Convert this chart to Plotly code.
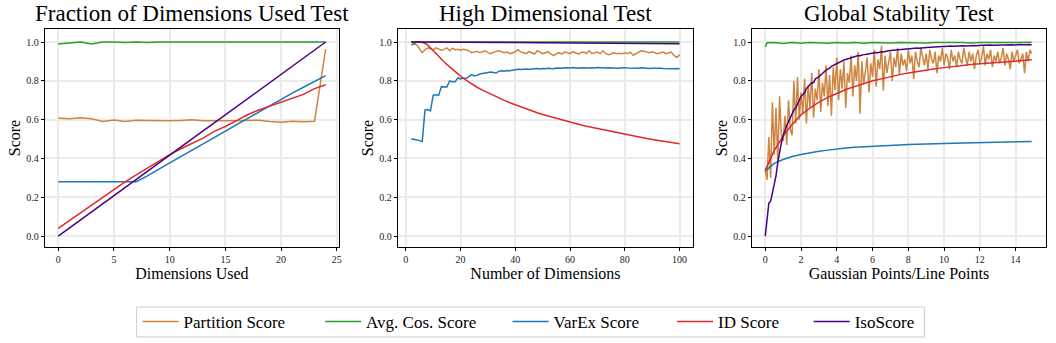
import plotly.graph_objects as go

# ---------------- Data ----------------
series_names = ["Partition Score", "Avg. Cos. Score", "VarEx Score", "ID Score", "IsoScore"]
colors = ["#cd853f", "#2ca02c", "#1f77b4", "#e0292a", "#4b0082"]

titles = ["Fraction of Dimensions Used Test", "High Dimensional Test", "Global Stability Test"]
x_labels = ["Dimensions Used", "Number of Dimensions", "Gaussian Points/Line Points"]
x_ticks = [[0, 5, 10, 15, 20, 25], [0, 20, 40, 60, 80, 100], [0, 2, 4, 6, 8, 10, 12, 14]]
y_ticks = [0.0, 0.2, 0.4, 0.6, 0.8, 1.0]

# Panel 1: Fraction of Dimensions Used
x1 = list(range(0, 25))
p1_partition = [0.608, 0.605, 0.61, 0.605, 0.59, 0.598, 0.59, 0.597, 0.596, 0.594, 0.594, 0.596, 0.599,
                0.594, 0.593, 0.594, 0.595, 0.596, 0.597, 0.59, 0.587, 0.592, 0.589, 0.592, 0.964]
p1_avgcos = [0.99, 0.995, 1.0, 0.99, 1.0, 1.0, 0.997, 1.0, 0.998, 1.0, 1.0, 0.997, 1.0, 0.999, 0.998,
             1.0, 1.0, 1.0, 1.0, 0.999, 0.998, 1.0, 1.0, 1.0, 1.0]
p1_varex = [0.28, 0.28, 0.28, 0.28, 0.28, 0.28, 0.28, 0.28, 0.31, 0.345, 0.377, 0.41, 0.443, 0.476,
            0.509, 0.542, 0.575, 0.608, 0.641, 0.674, 0.705, 0.737, 0.767, 0.797, 0.827]
p1_id = [0.04, 0.08, 0.12, 0.16, 0.2, 0.24, 0.28, 0.315, 0.35, 0.385, 0.42, 0.45, 0.478, 0.505, 0.54,
         0.565, 0.595, 0.625, 0.65, 0.67, 0.69, 0.71, 0.73, 0.76, 0.78]
p1_iso = [0.0, 0.042, 0.083, 0.125, 0.167, 0.208, 0.25, 0.292, 0.333, 0.375, 0.417, 0.458, 0.5, 0.542,
          0.583, 0.625, 0.667, 0.708, 0.75, 0.792, 0.833, 0.875, 0.917, 0.958, 1.0]

# Panel 2: High Dimensional
x2 = list(range(2, 101))
p2_partition = [1.0, 0.99, 0.985, 0.965, 0.945, 0.96, 0.97, 0.965, 0.96, 0.97, 0.965, 0.958, 0.962, 0.97,
                0.955, 0.968, 0.96, 0.962, 0.958, 0.963, 0.96, 0.955, 0.945, 0.948, 0.952, 0.945, 0.95,
                0.955, 0.945, 0.94, 0.948, 0.952, 0.955, 0.95, 0.945, 0.948, 0.94, 0.945, 0.95, 0.96,
                0.948, 0.945, 0.94, 0.95, 0.943, 0.938, 0.955, 0.948, 0.94, 0.945, 0.95, 0.938, 0.93,
                0.94, 0.945, 0.938, 0.948, 0.945, 0.94, 0.95, 0.942, 0.938, 0.945, 0.948, 0.94, 0.955,
                0.94, 0.945, 0.948, 0.94, 0.955, 0.94, 0.935, 0.938, 0.945, 0.94, 0.942, 0.94, 0.945,
                0.94, 0.948, 0.932, 0.94, 0.95, 0.955, 0.952, 0.948, 0.945, 0.95, 0.943, 0.94, 0.945,
                0.948, 0.94, 0.945, 0.948, 0.93, 0.92, 0.935]
x2_avgcos = [2, 3, 4, 6, 10, 20, 30, 40, 50, 60, 70, 80, 90, 100]
p2_avgcos = [0.985, 0.99, 1.0, 0.998, 1.0, 1.0, 0.999, 1.0, 1.0, 1.0, 1.0, 1.0, 1.0, 1.0]
p2_varex = [0.502, 0.497, 0.495, 0.492, 0.487, 0.65, 0.652, 0.645, 0.726, 0.728, 0.725, 0.77, 0.768, 0.768,
            0.80, 0.795, 0.795, 0.815, 0.81, 0.815, 0.812, 0.82, 0.832, 0.825, 0.828, 0.835, 0.838, 0.838,
            0.842, 0.845, 0.843, 0.84, 0.85, 0.852, 0.85, 0.853, 0.852, 0.855, 0.858, 0.86, 0.858, 0.86,
            0.861, 0.86, 0.862, 0.861, 0.863, 0.861, 0.864, 0.862, 0.865, 0.863, 0.862, 0.866, 0.864,
            0.865, 0.867, 0.865, 0.866, 0.868, 0.866, 0.865, 0.867, 0.866, 0.868, 0.866, 0.867, 0.866,
            0.869, 0.867, 0.868, 0.866, 0.867, 0.868, 0.866, 0.865, 0.867, 0.866, 0.868, 0.866, 0.865,
            0.867, 0.866, 0.865, 0.867, 0.865, 0.866, 0.864, 0.865, 0.866, 0.864, 0.865, 0.864, 0.863,
            0.864, 0.863, 0.862, 0.863, 0.862]
x2_id = list(range(2, 101, 2))
p2_id = [1.0, 1.0, 1.0, 0.985, 0.955, 0.925, 0.897, 0.872, 0.847, 0.824, 0.803, 0.784, 0.767, 0.752,
         0.738, 0.724, 0.711, 0.699, 0.687, 0.676, 0.665, 0.655, 0.646, 0.636, 0.627, 0.619, 0.61,
         0.602, 0.594, 0.587, 0.58, 0.573, 0.566, 0.56, 0.553, 0.547, 0.541, 0.535, 0.529, 0.524,
         0.518, 0.513, 0.508, 0.503, 0.498, 0.494, 0.489, 0.485, 0.48, 0.476]
x2_iso = [2, 10, 20, 30, 40, 50, 60, 70, 80, 90, 100]
p2_iso = [1.0, 1.0, 0.999, 0.998, 0.997, 0.996, 0.995, 0.994, 0.993, 0.992, 0.991]

# Panel 3: Global Stability
x3 = [round(i * 0.1, 1) for i in range(150)]
p3_partition = [0.34, 0.29, 0.51, 0.30, 0.69, 0.42, 0.66, 0.38, 0.72, 0.52,
                0.49, 0.62, 0.47, 0.70, 0.55, 0.52, 0.80, 0.58, 0.82, 0.60,
                0.74, 0.63, 0.81, 0.58, 0.78, 0.66, 0.84, 0.61, 0.76, 0.70,
                0.86, 0.64, 0.79, 0.72, 0.88, 0.67, 0.83, 0.62, 0.87, 0.75,
                0.92, 0.70, 0.86, 0.76, 0.90, 0.66, 0.84, 0.79, 0.93, 0.72,
                0.88, 0.80, 0.95, 0.63, 0.90, 0.78, 0.85, 0.92, 0.74, 0.89,
                0.82, 0.96, 0.77, 0.91, 0.86, 0.98, 0.75, 0.93, 0.84, 0.89,
                0.95, 0.80, 0.92, 0.87, 0.97, 0.83, 0.94, 0.88, 0.91, 0.85,
                0.96, 0.89, 0.93, 0.81, 0.95, 0.90, 0.87, 0.97, 0.92, 0.88,
                0.94, 0.86, 0.96, 0.91, 0.89, 0.95, 0.84, 0.93, 0.90, 0.97,
                0.88, 0.94, 0.92, 0.86, 0.96, 0.90, 0.93, 0.87, 0.95, 0.91,
                0.89, 0.97, 0.92, 0.88, 0.95, 0.90, 0.94, 0.86, 0.93, 0.96,
                0.89, 0.92, 0.98, 0.88, 0.94, 0.91, 0.96, 0.87, 0.93, 0.90,
                0.95, 0.89, 0.92, 0.97, 0.88, 0.94, 0.91, 0.86, 0.95, 0.90,
                0.93, 0.96, 0.89, 0.92, 0.94, 0.84, 0.95, 0.90, 0.96, 0.94]
p3_iso = [0.0, 0.08, 0.17, 0.18, 0.22, 0.27, 0.31, 0.38, 0.44, 0.48,
          0.52, 0.55, 0.57, 0.59, 0.61, 0.63, 0.65, 0.66, 0.68, 0.70,
          0.72, 0.73, 0.74, 0.76, 0.77, 0.78, 0.79, 0.79, 0.81, 0.815,
          0.82, 0.83, 0.84, 0.845, 0.855, 0.86, 0.865, 0.875, 0.88, 0.885,
          0.89, 0.895, 0.90, 0.903, 0.907, 0.91, 0.913, 0.915, 0.918, 0.92,
          0.925, 0.927, 0.93, 0.929, 0.933, 0.935, 0.936, 0.938, 0.939, 0.941,
          0.943, 0.944, 0.946, 0.945, 0.948, 0.95, 0.949, 0.952, 0.953, 0.955,
          0.956, 0.957, 0.958, 0.957, 0.96, 0.961, 0.96, 0.962, 0.963, 0.963,
          0.965, 0.966, 0.966, 0.967, 0.968, 0.969, 0.968, 0.97, 0.971, 0.971,
          0.972, 0.973, 0.972, 0.974, 0.975, 0.974, 0.975, 0.976, 0.976, 0.977,
          0.977, 0.978, 0.977, 0.978, 0.979, 0.978, 0.979, 0.98, 0.979, 0.98,
          0.98, 0.981, 0.98, 0.981, 0.982, 0.981, 0.982, 0.982, 0.981, 0.983,
          0.982, 0.983, 0.983, 0.984, 0.983, 0.984, 0.984, 0.983, 0.984, 0.985,
          0.984, 0.985, 0.985, 0.984, 0.985, 0.986, 0.985, 0.986, 0.986, 0.985,
          0.986, 0.987, 0.986, 0.987, 0.986, 0.987, 0.987, 0.986, 0.987, 0.986]
x3_smooth = [0, 0.5, 1.0, 1.5, 2.0, 2.5, 3.0, 3.5, 4.0, 4.5, 5.0, 5.5, 6.0, 6.5, 7.0, 7.5, 8.0, 8.5,
             9.0, 9.5, 10.0, 10.5, 11.0, 11.5, 12.0, 12.5, 13.0, 13.5, 14.0, 14.5, 14.9]
p3_id = [0.34, 0.44, 0.515, 0.575, 0.625, 0.66, 0.69, 0.715, 0.735, 0.755, 0.77, 0.785, 0.80, 0.81,
         0.822, 0.832, 0.84, 0.848, 0.856, 0.862, 0.868, 0.874, 0.879, 0.884, 0.888, 0.892, 0.896,
         0.899, 0.902, 0.905, 0.908]
p3_varex = [0.335, 0.375, 0.395, 0.41, 0.42, 0.43, 0.437, 0.443, 0.45, 0.454, 0.458, 0.461, 0.464,
            0.466, 0.468, 0.47, 0.472, 0.474, 0.475, 0.476, 0.477, 0.478, 0.479, 0.48, 0.481, 0.482,
            0.483, 0.484, 0.485, 0.486, 0.488]
x3_avgcos = [0, 0.1, 0.5, 1.0, 1.5, 2.0, 2.5, 3.0, 3.5, 4.0, 4.5, 5.0, 5.5, 6.0, 6.5, 7.0, 7.5, 8.0,
             8.5, 9.0, 9.5, 10.0, 10.5, 11.0, 11.5, 12.0, 12.5, 13.0, 13.5, 14.0, 14.5, 14.9]
p3_avgcos = [0.975, 0.996, 0.998, 0.992, 0.997, 0.994, 0.998, 0.996, 0.993, 0.998, 0.995, 0.997, 0.994,
             0.998, 0.996, 0.995, 0.998, 0.996, 0.997, 0.995, 0.998, 0.996, 0.997, 0.998, 0.995, 0.997,
             0.998, 0.996, 0.998, 0.997, 0.998, 0.999]

panels = [
    [(x1, p1_partition), (x1, p1_avgcos), (x1, p1_varex), (x1, p1_id), (x1, p1_iso)],
    [(x2, p2_partition), (x2_avgcos, p2_avgcos), (x2, p2_varex), (x2_id, p2_id), (x2_iso, p2_iso)],
    [(x3, p3_partition), (x3_avgcos, p3_avgcos), (x3_smooth, p3_varex), (x3_smooth, p3_id), (x3, p3_iso)],
]
x_ranges = [[-1.2, 25.2], [-2.9, 104.9], [-0.75, 15.7]]

# ---------------- Layout ----------------
W, H = 1056, 343
FONT = "Liberation Serif"
x_px = [(45, 340), (399, 695), (754, 1049)]
y_top, y_bot = 29, 247
legend_px = [138, 321, 509, 674, 811]   # left edge of each legend entry
legend_box = (137, 307, 927, 337)

fig = go.Figure()
for pi, panel in enumerate(panels):
    suffix = "" if pi == 0 else str(pi + 1)
    for si, (xs, ys) in enumerate(panel):
        fig.add_trace(go.Scatter(
            x=xs, y=ys, mode="lines", name=series_names[si],
            line=dict(color=colors[si], width=1.5),
            legendgroup=series_names[si], showlegend=(pi == 0),
            legend="legend" if si == 0 else "legend" + str(si + 1),
            xaxis="x" + suffix, yaxis="y" + suffix, hoverinfo="skip",
        ))

axis_common = dict(
    showline=True, mirror=True, linecolor="black", linewidth=1,
    ticks="outside", ticklen=3, tickwidth=0.8, tickcolor="black",
    showgrid=True, gridcolor="#ebebeb", gridwidth=1.5, zeroline=False,
    tickfont=dict(family=FONT, size=10, color="#222"),
)
layout = dict(
    width=W, height=H, margin=dict(l=0, r=0, t=0, b=0),
    paper_bgcolor="white", plot_bgcolor="white",
    font=dict(family=FONT, color="black"),
    showlegend=True,
    annotations=[],
    shapes=[dict(type="rect", xref="paper", yref="paper",
                 x0=legend_box[0] / W, x1=legend_box[2] / W,
                 y0=1 - legend_box[3] / H, y1=1 - legend_box[1] / H,
                 line=dict(color="#cccccc", width=1), fillcolor="rgba(0,0,0,0)", layer="above")],
)
for si in range(5):
    key = "legend" if si == 0 else "legend" + str(si + 1)
    layout[key] = dict(
        orientation="h", x=legend_px[si] / W, xanchor="left",
        y=1 - 322 / H, yanchor="middle", bgcolor="rgba(0,0,0,0)",
        borderwidth=0, font=dict(family=FONT, size=17), itemwidth=36,
    )
for pi in range(3):
    suffix = "" if pi == 0 else str(pi + 1)
    x0, x1p = x_px[pi]
    layout["xaxis" + suffix] = dict(
        axis_common, domain=[x0 / W, x1p / W], range=x_ranges[pi],
        tickvals=x_ticks[pi], anchor="y" + suffix,
        title=dict(text=x_labels[pi], font=dict(family=FONT, size=16), standoff=0),
    )
    layout["yaxis" + suffix] = dict(
        axis_common, domain=[1 - y_bot / H, 1 - y_top / H], range=[-0.056, 1.067],
        tickvals=y_ticks, tickformat=".1f", anchor="x" + suffix,
        title=dict(text="Score", font=dict(family=FONT, size=16), standoff=1),
    )
    layout["annotations"].append(dict(
        text=titles[pi], xref="paper", yref="paper",
        x=(x0 + x1p) / 2 / W, y=1 - 28 / H, xanchor="center", yanchor="bottom",
        showarrow=False, font=dict(family=FONT, size=23, color="black"),
    ))

fig.update_layout(**layout)
fig.write_html("out.html", config={"displayModeBar": False},
               post_script="document.body.style.margin='0';")
